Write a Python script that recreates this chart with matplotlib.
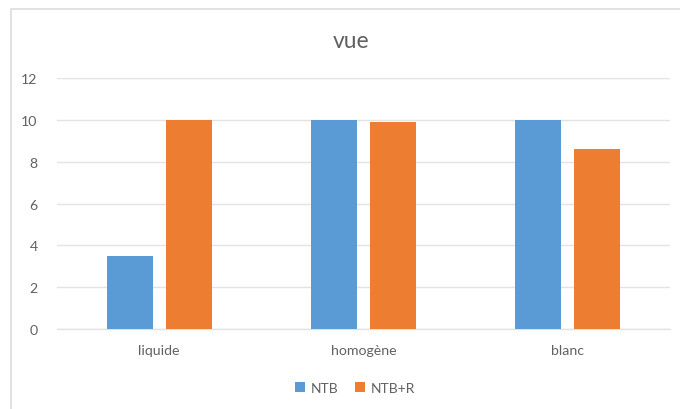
import matplotlib
matplotlib.use("Agg")
import matplotlib.pyplot as plt
from matplotlib.patches import Rectangle
import numpy as np

categories = ["liquide", "homogène", "blanc"]
ntb = [3.5, 10, 10]
ntb_r = [10, 9.9, 8.6]
series_names = ["NTB", "NTB+R"]
yticks = [0, 2, 4, 6, 8, 10, 12]

plt.rcParams["font.family"] = ["Lato", "DejaVu Sans"]
text_grey = "#616161"
grid_grey = "#E3E3E3"

fig = plt.figure(figsize=(6.8, 4.1), dpi=100)
fig.patch.set_facecolor("white")

# chart-area frame
fig.patches.append(Rectangle((11 / 680, -0.1), 1.2, 1 - 10 / 410 + 0.1,
                             transform=fig.transFigure, fill=False,
                             edgecolor="#DDDDDD", linewidth=1.2))

ax = fig.add_axes([57 / 680, 1 - 330 / 410, (670 - 57) / 680, (330 - 79) / 410])
x = np.arange(len(categories))
w = 0.225
off = 0.145
ax.bar(x - off, ntb, w, color="#5B9BD5", label=series_names[0], zorder=3)
ax.bar(x + off, ntb_r, w, color="#ED7D31", label=series_names[1], zorder=3)

ax.set_xlim(-0.5, len(categories) - 0.5)
ax.set_ylim(0, 12)
ax.set_yticks(yticks)
ax.set_xticks(x)
ax.set_xticklabels(categories)
ax.yaxis.grid(True, color=grid_grey, linewidth=1, zorder=0)
for s in ["top", "right", "left"]:
    ax.spines[s].set_visible(False)
ax.spines["bottom"].set_color(grid_grey)
ax.spines["bottom"].set_linewidth(1)
ax.tick_params(axis="both", length=0, colors=text_grey, labelsize=10.2)
ax.tick_params(axis="y", pad=14)
ax.tick_params(axis="x", pad=11)

fig.text(351 / 680, 1 - 42 / 410, "vue", ha="center", va="center",
         fontsize=16.5, color=text_grey)

fig.legend(loc="center", bbox_to_anchor=(355 / 680, 1 - 389 / 410), ncol=2,
           frameon=False, fontsize=10, handlelength=0.7, handleheight=0.7,
           handletextpad=0.4, columnspacing=1.2, labelcolor=text_grey)

fig.savefig("out.png", dpi=100, facecolor="white")
